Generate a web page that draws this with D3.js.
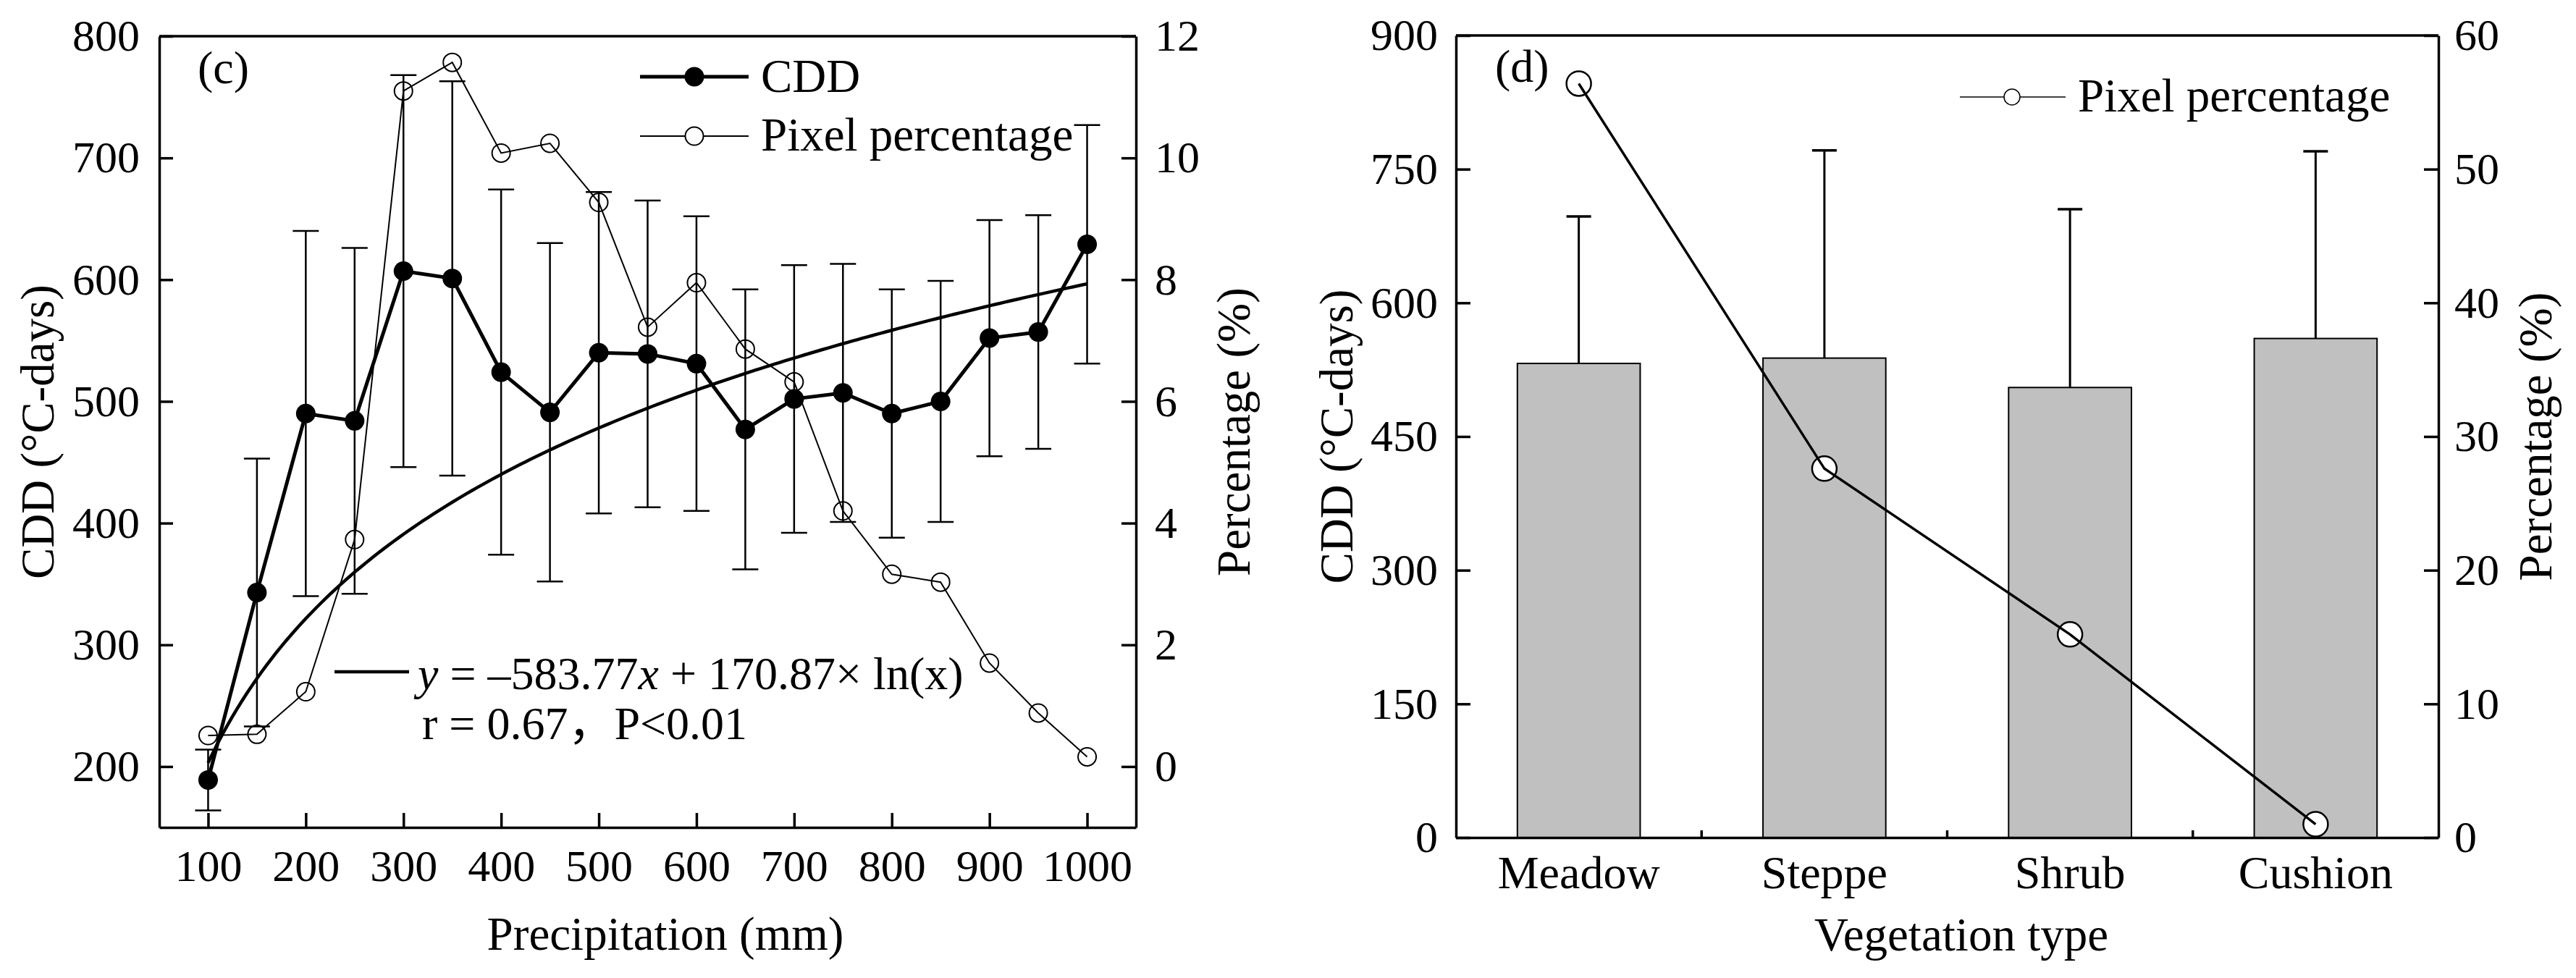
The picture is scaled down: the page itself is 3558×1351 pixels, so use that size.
<!DOCTYPE html>
<html>
<head>
<meta charset="utf-8">
<script src="https://cdn.jsdelivr.net/npm/d3@7"></script>
<style>
    body { margin: 0; background: #fff; }
</style>
</head>
<body>
<div id="chart-area"></div>
<script>
// (c) CDD vs precipitation
const precip = [100, 150, 200, 250, 300, 350, 400, 450, 500, 550, 600, 650, 700, 750, 800, 850, 900, 950, 1000];
const cddMean = [189, 343, 490, 484, 607, 601, 524, 491, 540, 539, 531, 477, 502, 507, 490, 500, 552, 557, 629];
const cddSd = [25, 110, 150, 142, 161, 162, 150, 139, 132, 126, 121, 115, 110, 106, 102, 99, 97, 96, 98];
const pixelPct = [0.51, 0.53, 1.23, 3.73, 11.1, 11.57, 10.08, 10.24, 9.27, 7.22, 7.95, 6.86, 6.32, 4.2, 3.16, 3.03, 1.7, 0.88, 0.16];
// fitted curve y = a + b*ln(x)
const fitA = -583.77;
const fitB = 170.87;
const cTicksX = [100, 200, 300, 400, 500, 600, 700, 800, 900, 1000];
const cTicksY = [200, 300, 400, 500, 600, 700, 800];
const cTicksPct = [0, 2, 4, 6, 8, 10, 12];

// (d) CDD by vegetation type
const vegTypes = ["Meadow", "Steppe", "Shrub", "Cushion"];
const vegCdd = [532, 538, 505, 560];
const vegSd = [165, 233, 200, 210];
const vegPct = [56.4, 27.6, 15.2, 1.0];
const dTicksY = [0, 150, 300, 450, 600, 750, 900];
const dTicksPct = [0, 10, 20, 30, 40, 50, 60];

const serif = '"Liberation Serif", "Times New Roman", serif';

const svg = d3
    .select("#chart-area")
    .append("svg")
    .attr("width", 3558)
    .attr("height", 1351)
    .attr("font-family", serif)
    .style("background", "#fff");

const styleAxis = (g, size) => {
    g.attr("font-family", serif).attr("font-size", size);
    g.select(".domain").attr("stroke-width", 3.5).attr("stroke", "#000");
    g.selectAll(".tick line").attr("stroke-width", 3.5).attr("stroke", "#000");
    g.selectAll(".tick text").attr("fill", "#000");
};

//---------------- Panel (c) ----------------
const c = { left: 220, right: 1569, top: 50, bottom: 1143 };

const xC = d3.scaleLinear().domain([50, 1050]).range([c.left, c.right]);
const yC = d3.scaleLinear().domain([150, 800]).range([c.bottom, c.top]);
const yCPct = d3.scaleLinear().domain([-1, 12]).range([c.bottom, c.top]);

const gc = svg.append("g");

// frame top
gc.append("line")
    .attr("x1", c.left).attr("x2", c.right)
    .attr("y1", c.top).attr("y2", c.top)
    .attr("stroke", "#000").attr("stroke-width", 3.5);

gc.append("g")
    .attr("transform", `translate(0, ${c.bottom})`)
    .call(d3.axisBottom(xC).tickValues(cTicksX).tickFormat(d3.format("d"))
        .tickSizeInner(-20).tickSizeOuter(0).tickPadding(30))
    .call((g) => styleAxis(g, 62));

gc.append("g")
    .attr("transform", `translate(${c.left}, 0)`)
    .call(d3.axisLeft(yC).tickValues(cTicksY).tickSizeInner(-19).tickSizeOuter(0).tickPadding(27))
    .call((g) => styleAxis(g, 62));

gc.append("g")
    .attr("transform", `translate(${c.right}, 0)`)
    .call(d3.axisRight(yCPct).tickValues(cTicksPct).tickSizeInner(-20).tickSizeOuter(0).tickPadding(26))
    .call((g) => styleAxis(g, 62));

const cData = precip.map((p, i) => ({ p, mean: cddMean[i], sd: cddSd[i], pct: pixelPct[i] }));

// error bars
const eb = gc.append("g").attr("stroke", "#000").attr("stroke-width", 2.5);
cData.forEach((d) => {
    const x = xC(d.p);
    eb.append("line").attr("x1", x).attr("x2", x)
        .attr("y1", yC(d.mean - d.sd)).attr("y2", yC(d.mean + d.sd));
    [d.mean - d.sd, d.mean + d.sd].forEach((v) => {
        eb.append("line").attr("x1", x - 18).attr("x2", x + 18)
            .attr("y1", yC(v)).attr("y2", yC(v));
    });
});

// pixel percentage
gc.append("path")
    .datum(cData)
    .attr("fill", "none")
    .attr("stroke", "#000")
    .attr("stroke-width", 2)
    .attr("d", d3.line().x((d) => xC(d.p)).y((d) => yCPct(d.pct)));

gc.selectAll("circle.pct")
    .data(cData)
    .enter()
    .append("circle")
    .attr("class", "pct")
    .attr("cx", (d) => xC(d.p))
    .attr("cy", (d) => yCPct(d.pct))
    .attr("r", 12.5)
    .attr("fill", "none")
    .attr("stroke", "#000")
    .attr("stroke-width", 2);

// fit curve
const fitX = d3.range(100, 1001, 5);
gc.append("path")
    .datum(fitX)
    .attr("fill", "none")
    .attr("stroke", "#000")
    .attr("stroke-width", 4.5)
    .attr("d", d3.line().x((x) => xC(x)).y((x) => yC(fitA + fitB * Math.log(x))));

// CDD
gc.append("path")
    .datum(cData)
    .attr("fill", "none")
    .attr("stroke", "#000")
    .attr("stroke-width", 5)
    .attr("d", d3.line().x((d) => xC(d.p)).y((d) => yC(d.mean)));

gc.selectAll("circle.cdd")
    .data(cData)
    .enter()
    .append("circle")
    .attr("class", "cdd")
    .attr("cx", (d) => xC(d.p))
    .attr("cy", (d) => yC(d.mean))
    .attr("r", 13.5)
    .attr("fill", "#000");

// Labels
gc.append("text").attr("x", 273).attr("y", 115).attr("font-size", 64).text("(c)");

gc.append("text")
    .attr("font-size", 65)
    .attr("text-anchor", "middle")
    .attr("x", 919)
    .attr("y", 1312)
    .text("Precipitation (mm)");

gc.append("text")
    .attr("font-size", 65)
    .attr("text-anchor", "middle")
    .attr("transform", `translate(74, ${(c.top + c.bottom) / 2}) rotate(-90)`)
    .text("CDD (°C-days)");

gc.append("text")
    .attr("font-size", 65)
    .attr("text-anchor", "middle")
    .attr("transform", `translate(1726, ${(c.top + c.bottom) / 2}) rotate(-90)`)
    .text("Percentage (%)");

// Legend
const legC = gc.append("g");
legC.append("line").attr("x1", 884).attr("x2", 1034).attr("y1", 106).attr("y2", 106)
    .attr("stroke", "#000").attr("stroke-width", 5);
legC.append("circle").attr("cx", 959).attr("cy", 106).attr("r", 13.5).attr("fill", "#000");
legC.append("text").attr("x", 1051).attr("y", 127).attr("font-size", 65).text("CDD");
legC.append("line").attr("x1", 884).attr("x2", 1034).attr("y1", 188).attr("y2", 188)
    .attr("stroke", "#000").attr("stroke-width", 2);
legC.append("circle").attr("cx", 959).attr("cy", 188).attr("r", 12.5)
    .attr("fill", "#fff").attr("stroke", "#000").attr("stroke-width", 2);
legC.append("text").attr("x", 1051).attr("y", 208).attr("font-size", 65).text("Pixel percentage");

// equation
legC.append("line").attr("x1", 462).attr("x2", 565).attr("y1", 928).attr("y2", 928)
    .attr("stroke", "#000").attr("stroke-width", 4.5);
const eq = legC.append("text").attr("x", 577).attr("y", 952).attr("font-size", 64);
eq.append("tspan").attr("font-style", "italic").text("y");
eq.append("tspan").text(" = –583.77");
eq.append("tspan").attr("font-style", "italic").text("x");
eq.append("tspan").text(" + 170.87× ln(x)");
const stat = legC.append("text").attr("x", 583).attr("y", 1021).attr("font-size", 64);
stat.append("tspan").text("r = 0.67");
stat.append("tspan").attr("font-family", '"Noto Sans CJK SC"').text("，");
stat.append("tspan").text("P<0.01");

//---------------- Panel (d) ----------------
const dB = { left: 2011, right: 3368, top: 49, bottom: 1157 };

const xD = d3.scaleBand().domain(vegTypes).range([dB.left, dB.right]).paddingInner(0.5).paddingOuter(0.25);
const yD = d3.scaleLinear().domain([0, 900]).range([dB.bottom, dB.top]);
const yDPct = d3.scaleLinear().domain([0, 60]).range([dB.bottom, dB.top]);

const gd = svg.append("g");

gd.append("line")
    .attr("x1", dB.left).attr("x2", dB.right)
    .attr("y1", dB.top).attr("y2", dB.top)
    .attr("stroke", "#000").attr("stroke-width", 3.5);

const dData = vegTypes.map((v, i) => ({ v, mean: vegCdd[i], sd: vegSd[i], pct: vegPct[i] }));

// bars
gd.selectAll("rect")
    .data(dData)
    .enter()
    .append("rect")
    .attr("x", (d) => xD(d.v))
    .attr("y", (d) => yD(d.mean))
    .attr("width", xD.bandwidth())
    .attr("height", (d) => yD(0) - yD(d.mean))
    .attr("fill", "#c0c0c0")
    .attr("stroke", "#000")
    .attr("stroke-width", 2);

// error bars (upper only)
const ebD = gd.append("g").attr("stroke", "#000");
dData.forEach((d) => {
    const x = xD(d.v) + xD.bandwidth() / 2;
    ebD.append("line").attr("x1", x).attr("x2", x)
        .attr("y1", yD(d.mean)).attr("y2", yD(d.mean + d.sd)).attr("stroke-width", 3);
    ebD.append("line").attr("x1", x - 17).attr("x2", x + 17)
        .attr("y1", yD(d.mean + d.sd)).attr("y2", yD(d.mean + d.sd)).attr("stroke-width", 3.5);
});

const xAxisD = gd.append("g")
    .attr("transform", `translate(0, ${dB.bottom})`)
    .call(d3.axisBottom(xD).tickSize(0).tickPadding(25))
    .call((g) => styleAxis(g, 64));

// ticks between categories
vegTypes.slice(1).forEach((v) => {
    const x = xD(v) - (xD.step() - xD.bandwidth()) / 2;
    xAxisD.append("line").attr("x1", x).attr("x2", x).attr("y1", 0).attr("y2", -10)
        .attr("stroke", "#000").attr("stroke-width", 3.5);
});

gd.append("g")
    .attr("transform", `translate(${dB.left}, 0)`)
    .call(d3.axisLeft(yD).tickValues(dTicksY).tickSizeInner(-20).tickSizeOuter(0).tickPadding(25))
    .call((g) => styleAxis(g, 62));

gd.append("g")
    .attr("transform", `translate(${dB.right}, 0)`)
    .call(d3.axisRight(yDPct).tickValues(dTicksPct).tickSizeInner(-20).tickSizeOuter(0).tickPadding(22))
    .call((g) => styleAxis(g, 62));

// pixel percentage
const cx = (d) => xD(d.v) + xD.bandwidth() / 2;
gd.selectAll("circle.pct")
    .data(dData)
    .enter()
    .append("circle")
    .attr("class", "pct")
    .attr("cx", cx)
    .attr("cy", (d) => yDPct(d.pct))
    .attr("r", 17)
    .attr("fill", "#fff")
    .attr("stroke", "#000")
    .attr("stroke-width", 2.5);

gd.append("path")
    .datum(dData)
    .attr("fill", "none")
    .attr("stroke", "#000")
    .attr("stroke-width", 3.5)
    .attr("d", d3.line().x(cx).y((d) => yDPct(d.pct)));

// Labels
gd.append("text").attr("x", 2065).attr("y", 113).attr("font-size", 64).text("(d)");

gd.append("text")
    .attr("font-size", 65)
    .attr("text-anchor", "middle")
    .attr("x", 2709)
    .attr("y", 1313)
    .text("Vegetation type");

gd.append("text")
    .attr("font-size", 65)
    .attr("text-anchor", "middle")
    .attr("transform", `translate(1868, ${(dB.top + dB.bottom) / 2}) rotate(-90)`)
    .text("CDD (°C-days)");

gd.append("text")
    .attr("font-size", 65)
    .attr("text-anchor", "middle")
    .attr("transform", `translate(3524, ${(dB.top + dB.bottom) / 2}) rotate(-90)`)
    .text("Percentage (%)");

// Legend
const legD = gd.append("g");
legD.append("line").attr("x1", 2707).attr("x2", 2853).attr("y1", 134).attr("y2", 134)
    .attr("stroke", "#000").attr("stroke-width", 1.5);
legD.append("circle").attr("cx", 2779).attr("cy", 134).attr("r", 11)
    .attr("fill", "#fff").attr("stroke", "#000").attr("stroke-width", 1.5);
legD.append("text").attr("x", 2870).attr("y", 154).attr("font-size", 65).text("Pixel percentage");
</script>
</body>
</html>
